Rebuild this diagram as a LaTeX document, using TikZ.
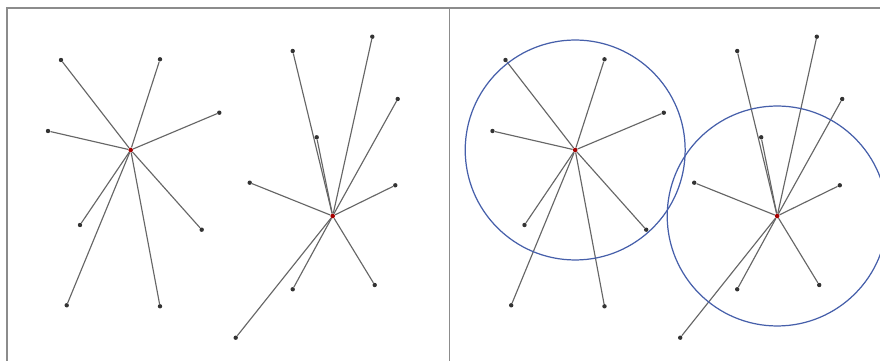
\documentclass[tikz,border=0pt]{standalone}
\usepackage{xcolor}
\usepackage{tikz}
\pgfdeclarelayer{background}
\pgfsetlayers{background,main}
\definecolor{ringblue}{RGB}{70,95,170}
\tikzset{
  hub/.style={circle,fill=red!65!black,inner sep=0pt,minimum size=2.6pt},
  leaf/.style={circle,fill=black!80,inner sep=0pt,minimum size=2.5pt},
  edge/.style={black!60,line width=0.65pt},
  rng/.style={ringblue,line width=0.7pt},
  frame/.style={black!45,line width=0.9pt}
}

\begin{document}
\begin{tikzpicture}[x=0.02cm,y=-0.02cm]
\useasboundingbox (0,0) rectangle (880,361);
% frame of both panels
\coordinate (tl) at (7,8); \coordinate (tr) at (880,8); \coordinate (bl) at (7,361);
\coordinate (mt) at (449.5,8); \coordinate (mb) at (449.5,361);
\draw[frame] (bl) -- (tl) -- (tr); \draw[frame] (mt) -- (mb);
\foreach \pn/\dx in {L/0,R/444.5}{
\begin{scope}[xshift=\dx*0.02cm]
\node[hub] (\pn a) at (130.7,150) {};
\node[hub] (\pn b) at (332.7,216) {};
\foreach \i/\x/\y in {1/61/60,2/160/59.3,3/219.3/112.7,4/48/131,5/80/225,6/201.7/229.7,7/66.7/305.3,8/160/306.3}{
  \node[leaf] (\pn a\i) at (\x,\y) {};
  \begin{pgfonlayer}{background}\draw[edge] (\pn a) -- (\pn a\i);\end{pgfonlayer}
}
\foreach \i/\x/\y in {1/292.7/51,2/372.3/36.7,3/397.7/99,4/316.7/137.3,5/249.7/182.7,6/395.3/185.3,7/292.7/289.3,8/374.7/285,9/235.7/337.7}{
  \node[leaf] (\pn b\i) at (\x,\y) {};
  \begin{pgfonlayer}{background}\draw[edge] (\pn b) -- (\pn b\i);\end{pgfonlayer}
}
\end{scope}
}
% neighbourhoods in the right panel
\draw[rng] (Ra.center) circle[radius=2.2cm];
\draw[rng] (Rb.center) circle[radius=2.2cm];
\end{tikzpicture}
\end{document}
